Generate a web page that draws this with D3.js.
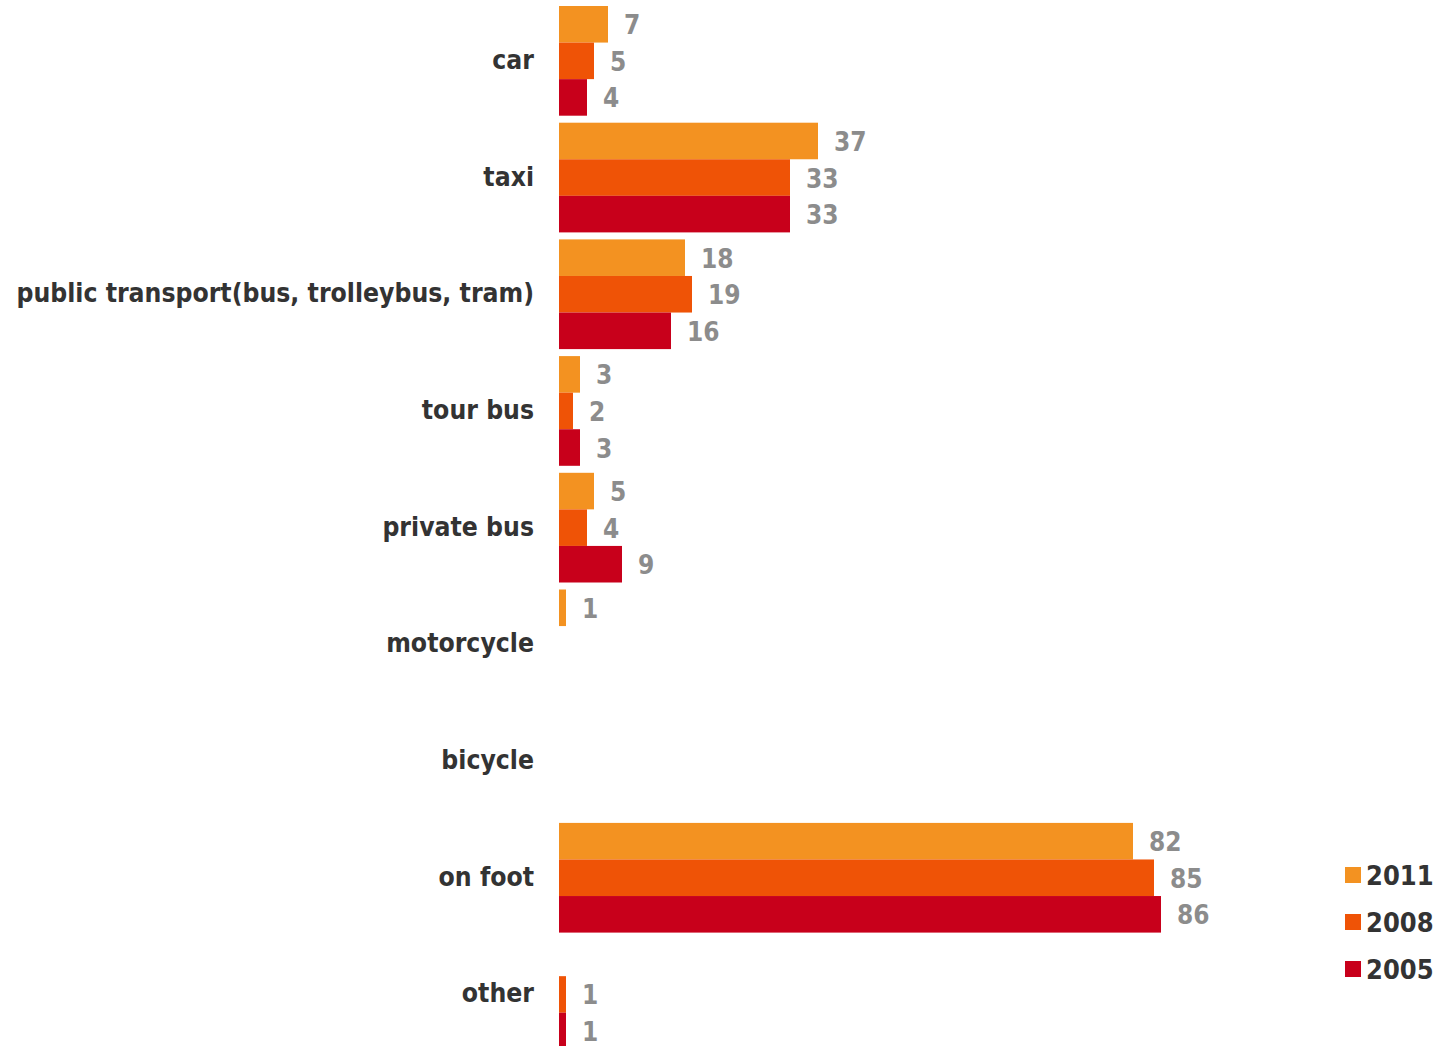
<!DOCTYPE html>
<html>
<head>
<meta charset="utf-8">
<script src="https://cdn.jsdelivr.net/npm/d3@7"></script>
<style>
  html, body { margin: 0; padding: 0; background: #fff; }
  svg { display: block; }
  text { font-family: "DejaVu Sans Condensed", "DejaVu Sans", sans-serif; font-weight: bold; }
</style>
</head>
<body>
<svg id="chart" width="1435" height="1046"></svg>
<script>
// Means of transport, share of respondents (%)
const categories = ["car", "taxi", "public transport(bus, trolleybus, tram)", "tour bus",
  "private bus", "motorcycle", "bicycle", "on foot", "other"];
const seriesNames = ["2011", "2008", "2005"];
const values2011 = [7, 37, 18, 3, 5, 1, null, 82, null];
const values2008 = [5, 33, 19, 2, 4, null, null, 85, 1];
const values2005 = [4, 33, 16, 3, 9, null, null, 86, 1];
const seriesColors = ["#f39221", "#ef5306", "#c8001b"];

const seriesValues = [values2011, values2008, values2005];
const rows = categories.map((c, i) => ({
  category: c,
  values: seriesNames.map((s, k) => ({ series: s, value: seriesValues[k][i], color: seriesColors[k] }))
}));

const svg = d3.select("#chart");

const x = d3.scaleLinear().domain([0, 100]).range([559, 1259]);
const y = d3.scaleBand().domain(categories).range([2.5, 2.5 + 9 * 116.7])
  .paddingInner(0.06).paddingOuter(0.03);
const yInner = d3.scaleBand().domain(seriesNames).range([0, y.bandwidth()]);

const groups = svg.append("g").selectAll("g").data(rows).join("g")
  .attr("transform", d => `translate(0,${y(d.category)})`);

groups.selectAll("rect").data(d => d.values.filter(v => v.value != null)).join("rect")
  .attr("x", x(0))
  .attr("y", v => yInner(v.series))
  .attr("width", v => x(v.value) - x(0))
  .attr("height", yInner.bandwidth())
  .attr("fill", v => v.color);

groups.selectAll("text.val").data(d => d.values.filter(v => v.value != null)).join("text")
  .attr("class", "val")
  .attr("x", v => x(v.value) + 16)
  .attr("y", v => yInner(v.series) + yInner.bandwidth() / 2 + 1)
  .attr("dominant-baseline", "central")
  .attr("font-size", 26)
  .attr("fill", "#8c8c8c")
  .text(v => v.value);

// Category axis labels
const yAxis = d3.axisLeft(y).tickSize(0).tickPadding(0);
const axisG = svg.append("g").attr("transform", "translate(534,-1)").call(yAxis);
axisG.select(".domain").remove();
axisG.selectAll("text")
  .attr("font-size", 26.3)
  .attr("fill", "#333333")
  .attr("dy", null)
  .attr("dominant-baseline", "central")
  .style("font-family", null);
axisG.attr("font-family", null).attr("font-size", null);

// Legend
const legend = svg.append("g").selectAll("g").data(seriesNames).join("g")
  .attr("transform", (d, i) => `translate(1345,${875 + i * 47})`);
legend.append("rect").attr("x", 0).attr("y", -8).attr("width", 16).attr("height", 16)
  .attr("fill", (d, i) => seriesColors[i]);
legend.append("text").attr("x", 21).attr("y", 0).attr("dominant-baseline", "central")
  .attr("font-size", 27).attr("fill", "#333333").text(d => d);
</script>
</body>
</html>
